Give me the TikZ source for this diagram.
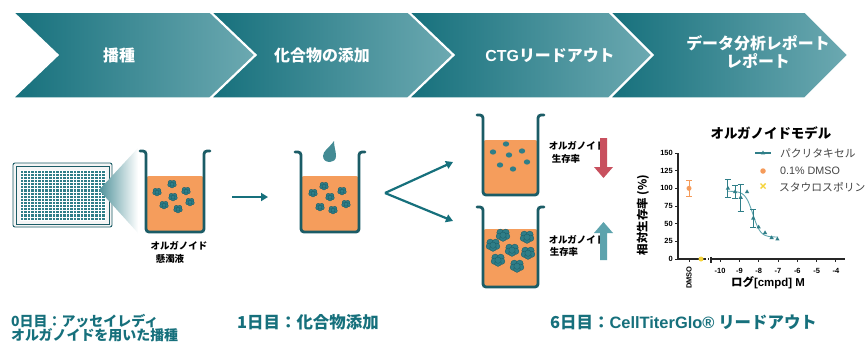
\documentclass[tikz,border=0pt]{standalone}
\usepackage{fontspec}
\setmainfont{Noto Sans CJK JP}
\newfontfamily\latinsans{Liberation Sans}
\usetikzlibrary{arrows.meta,shapes.geometric}

\definecolor{tealdark}{HTML}{16707C}
\definecolor{teallight}{HTML}{6CA9B1}
\definecolor{wellline}{HTML}{1B5C66}
\definecolor{liquid}{HTML}{F59D5C}
\definecolor{clumpfill}{HTML}{2F7E88}
\definecolor{downred}{HTML}{C8505E}
\definecolor{upteal}{HTML}{5DA3AD}
\definecolor{dmsoorange}{HTML}{F59B5A}
\definecolor{stauroyellow}{HTML}{F5D33A}
\definecolor{curveteal}{HTML}{62A7B0}
\definecolor{legendgray}{HTML}{444444}

\tikzset{
  chevron/.style={left color=tealdark, right color=teallight, draw=white, line width=1.5bp},
  chevtext/.style={text=white, font=\bfseries\fontsize{16}{19}\selectfont, align=center, inner sep=0},
  caption/.style={text=tealdark, font=\bfseries\fontsize{14}{13}\selectfont, align=left, anchor=west, inner sep=0},
  bigcaption/.style={caption, font=\bfseries\fontsize{16.5}{18}\selectfont},
  welllabel/.style={font=\bfseries\fontsize{9.5}{11}\selectfont, text=black, inner sep=0},
  wellwall/.style={draw=wellline, line width=2.8bp, rounded corners=3bp, line cap=round},
  flow/.style={draw=tealdark, line width=2.2bp, -{Triangle[length=7bp,width=8bp]}},
  axis/.style={draw=black!85, line width=1.3bp},
  ticklab/.style={font=\latinsans\bfseries\fontsize{7.5}{8}\selectfont, inner sep=0},
  ebar/.style={draw=clumpfill, line width=0.9bp},
  curve/.style={draw=curveteal, line width=0.9bp},
  tri/.style={regular polygon, regular polygon sides=3, fill=clumpfill, inner sep=0, minimum size=5bp},
  legendtext/.style={font=\fontsize{10.8}{13}\selectfont, text=legendgray, anchor=west, inner sep=0},
  clump/.pic={
    \foreach \a/\b/\r in {-1.7/-1.5/2.2, 1.7/-1.5/2.2, -2.3/0.8/2.0, 2.3/0.8/2.0, 0/1.9/2.1, 0/0.1/2.0}
      \filldraw[fill=clumpfill, draw=wellline, line width=0.35bp] (\a,\b) circle[radius=\r];
  },
  cell/.pic={
    \fill[clumpfill] (0,0) ellipse[x radius=3.2, y radius=2.6];
  }
}

% beaker with a liquid fill: left, right, top, bottom, liquid level
\newcommand{\beaker}[5]{%
  \fill[liquid, rounded corners=3bp] (#1,#5) -- (#1,#4) -- (#2,#4) -- (#2,#5) -- cycle;
  \draw[wellwall] ({#1-6},#3) -- (#1,#3) -- (#1,#4) -- (#2,#4) -- (#2,#3) -- ({#2+6},#3);
}

\begin{document}
\begin{tikzpicture}[x=1bp,y=-1bp]
\useasboundingbox (0,0) rectangle (868,343);
\fill[white] (0,0) rectangle (868,343);

% ---------- process banner ----------
\shade[chevron] (13,12) -- (210,12) -- (255,55) -- (210,98) -- (13,98) -- (58,55) -- cycle;
\shade[chevron] (211,12) -- (408,12) -- (453,55) -- (408,98) -- (211,98) -- (256,55) -- cycle;
\shade[chevron] (409,12) -- (609,12) -- (652,55) -- (609,98) -- (409,98) -- (454,55) -- cycle;
\shade[chevron] (610,12) -- (805,12) -- (848,55) -- (805,98) -- (610,98) -- (653,55) -- cycle;
\node[chevtext] (s1) at (119,55) {播種};
\node[chevtext] (s2) at (322,55) {化合物の添加};
\node[chevtext] (s3) at (550,55) {{\latinsans\bfseries CTG}リードアウト};
\node[chevtext] (s4) at (758,52) {データ分析レポート\\レポート};

% ---------- assay plate ----------
\draw[wellline, fill=black!4, rounded corners=2bp, line width=0.9bp] (13,163) rectangle (112,227);
\draw[wellline, line width=0.5bp] (16,166) rectangle (109,224);
\fill[clumpfill] (20,170) rectangle (105,220);
\foreach \i in {0,...,24}
  \draw[white, line width=0.7bp] ({20+\i*85/24},170) -- ({20+\i*85/24},220);
\foreach \j in {0,...,16}
  \draw[white, line width=0.7bp] (20,{170+\j*50/16}) -- (105,{170+\j*50/16});
\shade[left color=clumpfill!85, right color=white] (99,190) -- (138,148) -- (138,233) -- cycle;

% ---------- day 0 beaker ----------
\beaker{146}{204}{151}{232}{176}
\foreach \p/\q in {172/184, 157/192, 186/191, 173/197, 164/205, 190/202, 178/209}
  \pic at (\p,\q) {clump};
\node[welllabel] (lab0a) at (179,246) {オルガノイド};
\node[welllabel] (lab0b) at (170,259) {懸濁液};

\coordinate (a1s) at (232,197);
\coordinate (a1e) at (268,197);
\draw[flow] (a1s) -- (a1e);

% ---------- day 1 beaker with drop ----------
\beaker{301}{359}{152}{232}{176}
\foreach \p/\q in {324/186, 313/193, 342/191, 330/197, 320/207, 346/204, 333/210}
  \pic at (\p,\q) {clump};
\fill[clumpfill!90!white] (334,141) .. controls (334,147) and (336,151) .. (336,156)
  .. controls (336,160) and (333,162) .. (330,162)
  .. controls (326,162) and (323,160) .. (323,156)
  .. controls (323,151) and (329,148) .. cycle;

\coordinate (vtx) at (385,193);
\coordinate (vup) at (453,162);
\coordinate (vdn) at (453,221);
\draw[flow] (vtx) -- (vup);
\draw[flow] (vtx) -- (vdn);

% ---------- day 6 beakers ----------
\beaker{483}{538}{115}{195}{140}
\foreach \p/\q in {506/144, 493/152, 509/155, 522/151, 500/165, 527/162, 513/169}
  \pic at (\p,\q) {cell};
\node[welllabel] (lab1a) at (577,146) {オルガノイド};
\node[welllabel] (lab1b) at (566,159) {生存率};
\fill[downred] (600,138) -- (607,138) -- (607,167) -- (613,167) -- (603.5,178) -- (594,167) -- (600,167) -- cycle;

\beaker{483}{538}{207}{287}{229}
\foreach \p/\q in {503/235, 527/237, 493/245, 512/250, 528/253, 498/260, 517/266}
  \pic[scale=1.6] at (\p,\q) {clump};
\node[welllabel] (lab2a) at (577,240) {オルガノイド};
\node[welllabel] (lab2b) at (564,252) {生存率};
\fill[upteal] (600,260) -- (607,260) -- (607,233) -- (613,233) -- (603.5,222) -- (594,233) -- (600,233) -- cycle;

% ---------- dose response chart ----------
\node[font=\bfseries\fontsize{13.5}{15}\selectfont, inner sep=0] (ctitle) at (771,133) {オルガノイドモデル};
\node[font=\bfseries\fontsize{11.5}{12}\selectfont, rotate=90, inner sep=0] (ylab) at (643,215) {相対生存率 (\%)};
\node[font=\bfseries\fontsize{11.5}{13}\selectfont, inner sep=0] (xlab) at (768,283) {ログ{\latinsans\bfseries [cmpd] M}};

\foreach \v in {0,25,50,75,100,125,150}
  \node[ticklab, anchor=east] (yt\v) at (673,{259-\v*0.7067}) {\v};
\foreach \k/\t in {0/-10,1/-9,2/-8,3/-7,4/-6,5/-5,6/-4}
  \node[ticklab] (xt\k) at ({720+\k*19.33},271) {\t};
\node[ticklab, rotate=90, anchor=east] (xtd) at (689,266) {DMSO};

\begin{scope}[shift={(720,259)}, x=19.33bp, y=0.7067bp]
  \draw[axis] (-2.173,150) -- (-2.173,0) -- (-0.776,0);
  \draw[axis, line width=1.1bp, dotted] (-0.776,0) -- (-0.465,0);
  \draw[axis] (-0.465,0) -- (6.47,0);
  \draw[axis] (-0.465,3) -- (-0.465,-5);
  \foreach \v in {0,25,50,75,100,125,150}
    \draw[axis, line width=1bp] (-2.173,\v) -- ++(-3bp,0);
  \foreach \k in {0,...,6}
    \draw[axis, line width=1bp] (\k,0) -- ++(0,-3bp);
  \draw[axis, line width=1bp] (-1.604,0) -- ++(0,-3bp);

  % fitted response curve
  \draw[curve] plot[domain=0.4:3.0, samples=60, smooth] (\x, {31+65/(1+10^((\x-1.7)*2.2))});
  % error bars
  \foreach \X/\V/\E in {0.41/100/13, 0.78/95/9, 1.07/87/19, 1.72/57.6/13} {
    \draw[ebar] (\X,{\V-\E}) -- (\X,{\V+\E});
    \draw[ebar] (\X,{\V-\E}) ++(-3bp,0) -- ++(6bp,0);
    \draw[ebar] (\X,{\V+\E}) ++(-3bp,0) -- ++(6bp,0);
  }
  \foreach \X/\V [count=\n] in {0.41/100, 0.78/95, 1.07/87, 1.4/95, 1.72/57.6, 2.0/45, 2.33/37, 2.67/30, 2.97/28}
    \node[tri] (pt\n) at (\X,\V) {};

  % vehicle control
  \draw[ebar, draw=dmsoorange] (-1.604,89) -- (-1.604,111);
  \draw[ebar, draw=dmsoorange] (-1.604,89) ++(-3bp,0) -- ++(6bp,0);
  \draw[ebar, draw=dmsoorange] (-1.604,111) ++(-3bp,0) -- ++(6bp,0);
  \node[circle, fill=dmsoorange, inner sep=0, minimum size=5bp] (dmso) at (-1.604,100) {};
  % staurosporine
  \node[circle, fill=stauroyellow, inner sep=0, minimum size=5bp] (stau) at (-0.983,0) {};
\end{scope}

% legend
\coordinate (lg1a) at (755,153);
\coordinate (lg1b) at (771,153);
\draw[curve, draw=clumpfill, line width=1.1bp] (lg1a) -- (lg1b);
\node[tri] (lgtri) at (763,153) {};
\node[legendtext] (lgt1) at (780,153) {パクリタキセル};
\node[circle, fill=dmsoorange, inner sep=0, minimum size=5.5bp] (lgdot) at (763,171) {};
\node[legendtext] (lgt2) at (780,171) {{\latinsans 0.1\% DMSO}};
\draw[stauroyellow, line width=1.4bp] (760.5,183.5) -- (765.5,188.5) (760.5,188.5) -- (765.5,183.5);
\node[legendtext] (lgt3) at (779,187) {スタウロスポリン};

% ---------- timeline captions ----------
\node[caption] (c0) at (11,328) {0日目：アッセイレディ\\オルガノイドを用いた播種};
\node[bigcaption] (c1) at (237,322) {1日目：化合物添加};
\node[bigcaption] (c6) at (550,322) {6日目：{\latinsans\bfseries CellTiterGlo®} リードアウト};
\end{tikzpicture}
\end{document}
